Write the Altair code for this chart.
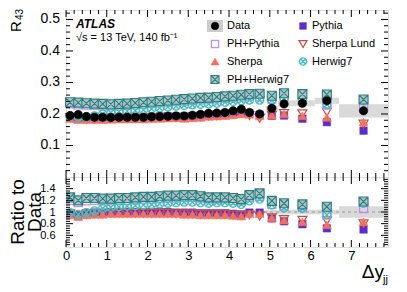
import altair as alt
import pandas as pd
import numpy as np

# ---------------- data ----------------
x_center = [0.1, 0.3, 0.5, 0.7, 0.9, 1.1, 1.3, 1.5, 1.7, 1.9,
            2.1, 2.3, 2.5, 2.7, 2.9, 3.1, 3.3, 3.5, 3.7, 3.9,
            4.1, 4.3, 4.5, 4.75, 5.05, 5.35, 5.8, 6.4, 7.3]
bin_lo = [0.0, 0.2, 0.4, 0.6, 0.8, 1.0, 1.2, 1.4, 1.6, 1.8,
          2.0, 2.2, 2.4, 2.6, 2.8, 3.0, 3.2, 3.4, 3.6, 3.8,
          4.0, 4.2, 4.4, 4.6, 4.9, 5.2, 5.5, 6.1, 6.7]
bin_hi = [0.2, 0.4, 0.6, 0.8, 1.0, 1.2, 1.4, 1.6, 1.8, 2.0,
          2.2, 2.4, 2.6, 2.8, 3.0, 3.2, 3.4, 3.6, 3.8, 4.0,
          4.2, 4.4, 4.6, 4.9, 5.2, 5.5, 6.1, 6.7, 7.9]

data_r43 = [0.195, 0.198, 0.192, 0.190, 0.190, 0.189, 0.190, 0.190, 0.190, 0.190,
            0.191, 0.192, 0.193, 0.194, 0.194, 0.196, 0.199, 0.202, 0.203, 0.205,
            0.210, 0.215, 0.205, 0.200, 0.218, 0.232, 0.234, 0.242, 0.210]
data_rel_unc = [0.01, 0.01, 0.01, 0.01, 0.01, 0.01, 0.01, 0.01, 0.01, 0.01,
                0.01, 0.01, 0.01, 0.01, 0.012, 0.012, 0.012, 0.014, 0.014, 0.015,
                0.016, 0.017, 0.018, 0.02, 0.035, 0.04, 0.04, 0.04, 0.10]

ph_herwig7_top = [0.237, 0.236, 0.234, 0.233, 0.232, 0.231, 0.232, 0.233, 0.235, 0.237,
                  0.239, 0.241, 0.243, 0.245, 0.247, 0.249, 0.251, 0.252, 0.254, 0.256,
                  0.258, 0.261, 0.263, 0.264, 0.258, 0.266, 0.263, 0.262, 0.246]
ph_pythia_top = [0.232, 0.229, 0.228, 0.227, 0.226, 0.225, 0.226, 0.227, 0.229, 0.231,
                 0.233, 0.235, 0.237, 0.239, 0.241, 0.243, 0.245, 0.247, 0.248, 0.250,
                 0.252, 0.254, 0.256, 0.254, 0.247, 0.254, 0.252, 0.228, 0.223]
herwig7_top = [0.193, 0.190, 0.191, 0.194, 0.200, 0.204, 0.207, 0.209, 0.211, 0.213,
               0.216, 0.219, 0.222, 0.225, 0.227, 0.229, 0.231, 0.232, 0.234, 0.237,
               0.240, 0.242, 0.244, 0.244, 0.244, 0.248, 0.248, 0.230, 0.242]
pythia_top = [0.189, 0.186, 0.188, 0.188, 0.188, 0.189, 0.190, 0.190, 0.190, 0.190,
              0.191, 0.192, 0.193, 0.192, 0.192, 0.194, 0.195, 0.198, 0.199, 0.201,
              0.204, 0.206, 0.203, 0.198, 0.194, 0.195, 0.185, 0.174, 0.147]
sherpa_top = [0.185, 0.182, 0.182, 0.182, 0.182, 0.183, 0.184, 0.184, 0.184, 0.184,
              0.185, 0.186, 0.187, 0.188, 0.186, 0.188, 0.189, 0.192, 0.193, 0.195,
              0.197, 0.200, 0.199, 0.194, 0.196, 0.200, 0.194, 0.189, 0.174]
sherpa_lund_top = [0.189, 0.186, 0.184, 0.184, 0.184, 0.185, 0.186, 0.186, 0.186, 0.186,
                   0.187, 0.188, 0.189, 0.188, 0.188, 0.190, 0.191, 0.194, 0.195, 0.197,
                   0.200, 0.202, 0.195, 0.186, 0.196, 0.202, 0.201, 0.206, 0.168]

ph_herwig7_ratio = [1.25, 1.20, 1.24, 1.24, 1.23, 1.23, 1.24, 1.24, 1.25, 1.26,
                    1.26, 1.27, 1.28, 1.28, 1.29, 1.29, 1.27, 1.25, 1.25, 1.25,
                    1.24, 1.22, 1.29, 1.32, 1.19, 1.15, 1.13, 1.09, 1.18]
ph_pythia_ratio = [1.20, 1.16, 1.19, 1.20, 1.19, 1.19, 1.20, 1.20, 1.21, 1.22,
                   1.22, 1.23, 1.24, 1.24, 1.25, 1.25, 1.24, 1.22, 1.22, 1.22,
                   1.20, 1.19, 1.25, 1.27, 1.13, 1.10, 1.08, 0.95, 1.06]
herwig7_ratio = [0.99, 0.96, 0.99, 1.02, 1.06, 1.08, 1.09, 1.10, 1.11, 1.12,
                 1.13, 1.14, 1.15, 1.16, 1.17, 1.17, 1.16, 1.15, 1.16, 1.16,
                 1.15, 1.13, 1.19, 1.22, 1.12, 1.07, 1.06, 0.95, 1.15]
pythia_ratio = [0.97, 0.94, 0.98, 0.99, 0.99, 1.00, 1.00, 1.00, 1.00, 1.00,
                1.00, 1.00, 1.00, 0.99, 0.99, 0.99, 0.98, 0.98, 0.98, 0.98,
                0.97, 0.96, 0.99, 0.99, 0.89, 0.84, 0.79, 0.72, 0.70]
sherpa_ratio = [0.95, 0.92, 0.95, 0.96, 0.96, 0.97, 0.97, 0.97, 0.97, 0.97,
                0.97, 0.97, 0.97, 0.97, 0.96, 0.96, 0.95, 0.95, 0.95, 0.95,
                0.94, 0.93, 0.97, 0.97, 0.90, 0.86, 0.83, 0.78, 0.83]
sherpa_lund_ratio = [0.97, 0.94, 0.96, 0.97, 0.97, 0.98, 0.98, 0.98, 0.98, 0.98,
                     0.98, 0.98, 0.98, 0.97, 0.97, 0.97, 0.96, 0.96, 0.96, 0.96,
                     0.95, 0.94, 0.95, 0.93, 0.90, 0.87, 0.86, 0.85, 0.80]

x_tick_labels = [0, 1, 2, 3, 4, 5, 6, 7]
y_top_labels = [0.1, 0.2, 0.3, 0.4, 0.5]
y_top_label_text = ["0.1", "0.2", "0.3", "0.4", "0.5"]
y_bot_labels = [0.6, 0.8, 1.0, 1.2, 1.4]

# ---------------- styling ----------------
FONT = "Liberation Sans"
W, H_TOP, H_BOT = 322, 167, 70
X_DOM = [0, 7.9]
YT_DOM = [0, 0.53]
YB_DOM = [0.4, 1.6]

SQUARE_X = "M-1,-1H1V1H-1ZM-1,-1L1,1M-1,1L1,-1"
CIRCLE_X = "M1,0A1,1,0,1,1,-1,0A1,1,0,1,1,1,0ZM-0.7,-0.7L0.7,0.7M-0.7,0.7L0.7,-0.7"

styles = {
    "Pythia": dict(shape="square", size=56, filled=True, fill="#5b2dc9", stroke="#5b2dc9", strokeWidth=0.5),
    "Sherpa Lund": dict(shape="triangle-down", size=80, filled=False, color="#cc4b3f", strokeWidth=1.2),
    "Sherpa": dict(shape="triangle-up", size=80, filled=True, fill="#f36f5e", stroke="#f36f5e", strokeWidth=0.5),
    "PH+Pythia": dict(shape="square", size=64, filled=False, color="#c58cf5", strokeWidth=1.3),
    "Herwig7": dict(shape=CIRCLE_X, size=64, filled=False, color="#3fbfbf", strokeWidth=1.4),
    "PH+Herwig7": dict(shape=SQUARE_X, size=81, filled=True, fill="#aac4c6", stroke="#2f7f80", strokeWidth=1.1),
    "Data": dict(shape="circle", size=72, filled=True, fill="black", stroke="black", strokeWidth=0.5),
}
top_vals = {"Pythia": pythia_top, "Sherpa Lund": sherpa_lund_top, "Sherpa": sherpa_top,
            "PH+Pythia": ph_pythia_top, "Herwig7": herwig7_top, "PH+Herwig7": ph_herwig7_top}
bot_vals = {"Pythia": pythia_ratio, "Sherpa Lund": sherpa_lund_ratio, "Sherpa": sherpa_ratio,
            "PH+Pythia": ph_pythia_ratio, "Herwig7": herwig7_ratio, "PH+Herwig7": ph_herwig7_ratio}
draw_order = ["Pythia", "Sherpa Lund", "Sherpa", "PH+Pythia", "Herwig7", "PH+Herwig7"]

xscale = alt.Scale(domain=X_DOM, nice=False, zero=False)
yt_scale = alt.Scale(domain=YT_DOM, nice=False, zero=False)
yb_scale = alt.Scale(domain=YB_DOM, nice=False, zero=False)

ax_common = dict(ticks=False, tickSize=0, domain=False, grid=False, labelFont=FONT,
                 labelColor="black", labelOverlap=False, title=None)
yt_axis = None
yb_axis = alt.Axis(values=y_bot_labels, format="~g", labelFontSize=11, labelPadding=11, **ax_common)
xb_axis = alt.Axis(values=x_tick_labels, format="d", labelFontSize=13, labelPadding=2,
                   labelFlush=False, **ax_common)


def X(field, axis):
    return alt.X(field, type="quantitative", scale=xscale, axis=axis, title=None)


def Y(field, scale, axis):
    return alt.Y(field, type="quantitative", scale=scale, axis=axis, title=None)


one = pd.DataFrame({"a": [0]})


def txt(text, x, y, size, **kw):
    return alt.Chart(one).mark_text(text=text, font=FONT, fontSize=size, color="black", **kw).encode(
        x=alt.value(x), y=alt.value(y))


def tick_layers(yscale, xaxis, yaxis, ymaj, ymin, H):
    layers = []
    xmaj = [float(v) for v in range(0, 8)]
    xmin = [round(i * 0.2, 2) for i in range(1, 40) if i % 5 != 0 and i * 0.2 < X_DOM[1]]
    for vals, L in [(xmaj, 7), (xmin, 4)]:
        base = alt.Chart(pd.DataFrame({"v": vals})).mark_rule(color="black", strokeWidth=1)
        layers.append(base.encode(x=X("v", xaxis), y=alt.value(H), y2=alt.value(H - L)))
        layers.append(base.encode(x=X("v", xaxis), y=alt.value(0), y2=alt.value(L)))
    for vals, L in [(ymaj, 7), (ymin, 4)]:
        base = alt.Chart(pd.DataFrame({"v": vals})).mark_rule(color="black", strokeWidth=1)
        layers.append(base.encode(y=Y("v", yscale, yaxis), x=alt.value(0), x2=alt.value(L)))
        layers.append(base.encode(y=Y("v", yscale, yaxis), x=alt.value(W), x2=alt.value(W - L)))
    return layers


df = pd.DataFrame({"x": x_center, "lo": bin_lo, "hi": bin_hi, "data": data_r43, "unc": data_rel_unc})
df["band_lo"] = df["data"] * (1 - df["unc"])
df["band_hi"] = df["data"] * (1 + df["unc"])
df["rband_lo"] = 1 - df["unc"]
df["rband_hi"] = 1 + df["unc"]
for name in draw_order:
    df["t_" + name] = top_vals[name]
    df["r_" + name] = bot_vals[name]

# ---------------- top panel ----------------
top_layers = []
top_layers.append(alt.Chart(df).mark_rect(color="#d9d9d9").encode(
    x=X("lo", None), x2="hi", y=Y("band_lo", yt_scale, yt_axis), y2="band_hi"))
for name in draw_order:
    top_layers.append(alt.Chart(df).mark_point(opacity=1, **styles[name]).encode(
        x=X("x", None), y=Y("t_" + name, yt_scale, yt_axis)))
top_layers.append(alt.Chart(df).mark_point(opacity=1, **styles["Data"]).encode(
    x=X("x", None), y=Y("data", yt_scale, yt_axis)))

yt_min = [round(i * 0.02, 3) for i in range(1, 27) if i % 5 != 0]
top_layers += tick_layers(yt_scale, None, yt_axis, y_top_labels, yt_min, H_TOP)

# legend
legend_col1 = ["Data", "PH+Pythia", "Sherpa", "PH+Herwig7"]
legend_col2 = ["Pythia", "Sherpa Lund", "Herwig7"]
row_y = [16, 34, 51.5, 69.5]
for col, mx, tx in [(legend_col1, 149, 161), (legend_col2, 237, 246)]:
    for i, name in enumerate(col):
        if name == "Data":
            top_layers.append(alt.Chart(one).mark_point(
                shape="M-1,-0.75H1V0.75H-1Z", size=256, filled=True, fill="#cccccc",
                strokeWidth=0, opacity=1).encode(x=alt.value(mx), y=alt.value(row_y[i])))
        st = dict(styles[name])
        st["size"] = st["size"] * 0.8
        top_layers.append(alt.Chart(one).mark_point(opacity=1, **st).encode(
            x=alt.value(mx), y=alt.value(row_y[i])))
        top_layers.append(txt(name, tx, row_y[i], 11, align="left", baseline="middle"))

top_layers.append(txt("ATLAS", 10, 18, 12, fontWeight="bold", fontStyle="italic", align="left",
                      baseline="alphabetic"))
top_layers.append(txt("√s = 13 TeV, 140 fb⁻¹", 10, 30.5, 11, align="left", baseline="alphabetic"))
top_layers.append(txt("R", -45, 22, 15, angle=270, align="left", baseline="alphabetic"))
top_layers.append(txt("43", -43.5, 10, 10, angle=270, align="left", baseline="alphabetic"))

# y tick labels of the upper panel (drawn last)
top_layers.append(alt.Chart(pd.DataFrame({"v": y_top_labels, "lab": y_top_label_text})).mark_text(
    font=FONT, fontSize=14, color="black", opacity=1, align="right", baseline="middle").encode(
    y=Y("v", yt_scale, None), x=alt.value(-6), text="lab:N"))

top = alt.layer(*top_layers).properties(width=W, height=H_TOP)

# ---------------- ratio panel ----------------
bot_layers = []
bot_layers.append(alt.Chart(df).mark_rect(color="#d9d9d9").encode(
    x=X("lo", xb_axis), x2="hi", y=Y("rband_lo", yb_scale, yb_axis), y2="rband_hi"))
bot_layers.append(alt.Chart(pd.DataFrame({"v": [1.0]})).mark_rule(
    color="#999999", strokeDash=[3, 3], strokeWidth=1).encode(
    y=Y("v", yb_scale, yb_axis), x=alt.value(0), x2=alt.value(W)))
for name in draw_order:
    bot_layers.append(alt.Chart(df).mark_point(opacity=1, clip=True, **styles[name]).encode(
        x=X("x", xb_axis), y=Y("r_" + name, yb_scale, yb_axis)))

yb_min = [round(0.4 + i * 0.04, 3) for i in range(1, 30) if i % 5 != 0]
bot_layers += tick_layers(yb_scale, xb_axis, yb_axis, [0.6, 0.8, 1.0, 1.2, 1.4], yb_min, H_BOT)

bot_layers.append(txt("Ratio to", -42, 35, 19, angle=270, align="center", baseline="alphabetic"))
bot_layers.append(txt("Data", -25, 35, 19, angle=270, align="center", baseline="alphabetic"))
bot_layers.append(txt("Δy", 318, 101, 19, align="right", baseline="alphabetic"))
bot_layers.append(txt("jj", 317, 106, 11, align="left", baseline="alphabetic"))

bot = alt.layer(*bot_layers).properties(width=W, height=H_BOT)

chart = alt.vconcat(top, bot, spacing=0, bounds="flush").properties(
    padding={"left": 0, "top": 0, "right": 0, "bottom": 0}
).configure_view(stroke="black", strokeWidth=1).configure(background="white")

chart.save("out.html", embed_options={"renderer": "svg", "actions": False})
